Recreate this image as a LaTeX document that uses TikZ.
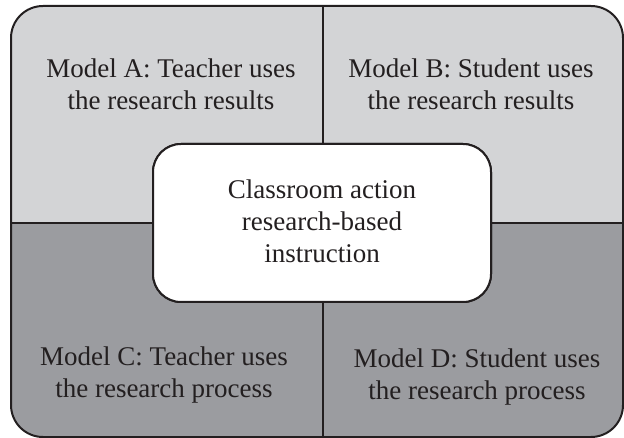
\documentclass[tikz,border=0pt]{standalone}
\usepackage{fontspec}
\setmainfont{Liberation Serif}
\definecolor{inkc}{HTML}{231F20}
\definecolor{topgray}{HTML}{D3D4D6}
\definecolor{botgray}{HTML}{9B9CA0}
\begin{document}
\begin{tikzpicture}[x=1pt,y=-1pt,
  lbl/.style={align=center,font=\fontsize{27}{32}\selectfont,text=inkc,inner sep=0pt},
  frame/.style={draw=inkc,line width=2pt},
  divider/.style={draw=inkc,line width=2pt}]
\useasboundingbox (0,0) rectangle (624,438);
\coordinate (tl) at (11,6);
\coordinate (br) at (623,437);
% two-tone background inside the rounded frame
\begin{scope}
  \clip[rounded corners=32pt] (tl) rectangle (br);
  \fill[topgray] (tl) rectangle (623,222);
  \fill[botgray] (11,222) rectangle (br);
\end{scope}
% central box (placed first so the dividers can attach to it)
\node[frame,fill=white,rounded corners=28pt,minimum width=338pt,minimum height=158pt,inner sep=0pt] (core) at (322,223) {};
% dividers between the four quadrants
\draw[divider] (core.north -| 323,0) -- (tl -| 323,0);
\draw[divider] (core.south -| 323,0) -- (br -| 323,0);
\draw[divider] (core.west) -- (tl |- core.west);
\draw[divider] (core.east) -- (br |- core.east);
% outer frame
\draw[frame,rounded corners=32pt] (tl) rectangle (br);
% redraw the central box on top of the dividers
\node[frame,fill=white,rounded corners=28pt,minimum width=338pt,minimum height=158pt,inner sep=0pt] (corebox) at (core.center) {};
% labels
\node[lbl] (ctext) at ([yshift=2pt]corebox.center) {Classroom action\\research-based\\instruction};
\node[lbl] (ma) at (171,84) {Model A: Teacher uses\\the research results};
\node[lbl] (mb) at (471,84) {Model B: Student uses\\the research results};
\node[lbl] (mc) at (164,375) {Model C: Teacher uses\\the research process};
\node[lbl] (md) at (477,377) {Model D: Student uses\\the research process};
\end{tikzpicture}
\end{document}
